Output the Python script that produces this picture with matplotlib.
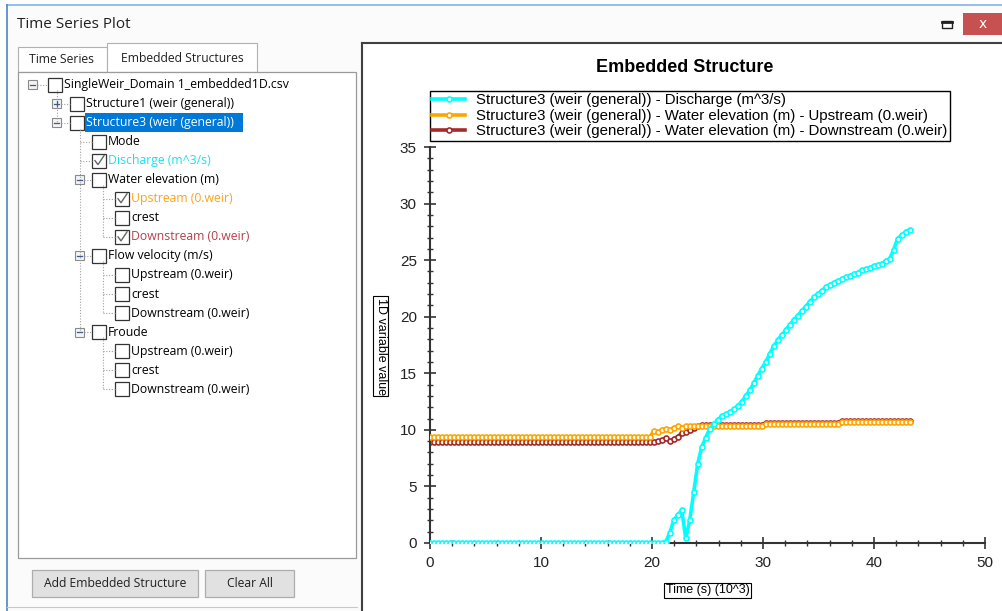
import matplotlib.pyplot as plt
from matplotlib.patches import Rectangle
import numpy as np

# sample times in 10^3 s (one sample every 360 s)
time_k = np.arange(121) * 0.36

discharge = [0.0] * 59 + [
    0.1, 0.9, 2.0, 2.5, 2.9, 0.4, 2.0, 4.5, 7.0, 8.5,
    9.3, 10.1, 10.5, 10.9, 11.2, 11.4, 11.6, 11.8, 12.1, 12.5,
    13.0, 13.5, 14.1, 14.8, 15.4, 16.0, 16.7, 17.4, 17.9, 18.4,
    18.8, 19.3, 19.7, 20.1, 20.5, 20.9, 21.3, 21.7, 22.0, 22.3,
    22.6, 22.8, 23.0, 23.2, 23.3, 23.5, 23.6, 23.8, 23.9, 24.1,
    24.2, 24.3, 24.5, 24.6, 24.7, 24.9, 25.1, 25.9, 26.9, 27.2,
    27.5, 27.7]
upstream = ([9.35] * 56
            + [9.9, 9.8, 10.0, 10.1, 10.0, 10.2, 10.3, 10.2, 10.3, 10.3, 10.3]
            + [10.35] * 17 + [10.5] * 19 + [10.7] * 18)
downstream = ([8.95] * 57
              + [9.0, 9.1, 9.3, 9.0, 9.2, 9.4, 9.7, 9.8, 10.0, 10.2, 10.35, 10.4]
              + [10.45] * 15 + [10.6] * 19 + [10.8] * 18)

legend_labels = [
    'Structure3 (weir (general)) - Discharge (m^3/s)',
    'Structure3 (weir (general)) - Water elevation (m) - Upstream (0.weir)',
    'Structure3 (weir (general)) - Water elevation (m) - Downstream (0.weir)',
]

# tree rows: (level, text, text colour, checked, expander)
tree_rows = [
    (0, 'SingleWeir_Domain 1_embedded1D.csv', '#000000', False, '-'),
    (1, 'Structure1 (weir (general))', '#000000', False, '+'),
    (1, 'Structure3 (weir (general))', '#ffffff', False, '-'),
    (2, 'Mode', '#000000', False, None),
    (2, 'Discharge (m^3/s)', '#19e0f0', True, None),
    (2, 'Water elevation (m)', '#000000', False, '-'),
    (3, 'Upstream (0.weir)', '#ffa31a', True, None),
    (3, 'crest', '#000000', False, None),
    (3, 'Downstream (0.weir)', '#b5404a', True, None),
    (2, 'Flow velocity (m/s)', '#000000', False, '-'),
    (3, 'Upstream (0.weir)', '#000000', False, None),
    (3, 'crest', '#000000', False, None),
    (3, 'Downstream (0.weir)', '#000000', False, None),
    (2, 'Froude', '#000000', False, '-'),
    (3, 'Upstream (0.weir)', '#000000', False, None),
    (3, 'crest', '#000000', False, None),
    (3, 'Downstream (0.weir)', '#000000', False, None),
]

W, H = 1003, 611
fig = plt.figure(figsize=(W / 100, H / 100), dpi=100)
fig.patch.set_facecolor('#ffffff')

# window chrome drawn in pixel coordinates
ui = fig.add_axes([0, 0, 1, 1])
ui.set_xlim(0, W)
ui.set_ylim(H, 0)
ui.axis('off')
UIF = 'Open Sans'

ui.add_patch(Rectangle((7, 5), W, H, fc='#fbfbfb', ec='none'))
ui.plot([7, W], [5, 5], color='#7eb4ea', lw=1.2)
ui.plot([7, 7], [5, H], color='#4a86c8', lw=1.2)
ui.text(17, 25, 'Time Series Plot', fontsize=11, family=UIF, va='center', color='#202020')
ui.add_patch(Rectangle((963, 13), 45, 22, fc='#c75050', ec='none'))
ui.text(983, 23.5, 'x', fontsize=10, family='DejaVu Sans', color='white', ha='center', va='center')
ui.add_patch(Rectangle((942, 21), 10, 7, fc='none', ec='#202020', lw=1))
ui.plot([942, 952], [21.5, 21.5], color='#202020', lw=2)

# tabs
ui.add_patch(Rectangle((18, 47), 89, 25, fc='#ffffff', ec='#b0b0b0', lw=0.8))
ui.text(62, 59.5, 'Time Series', fontsize=8.7, family=UIF, ha='center', va='center', color='#202020')
ui.add_patch(Rectangle((107, 43), 150, 29, fc='#ffffff', ec='#b0b0b0', lw=0.8))
ui.text(182, 58, 'Embedded Structures', fontsize=8.7, family=UIF, ha='center', va='center', color='#202020')

# tree box
ui.add_patch(Rectangle((18, 72), 338, 486, fc='#ffffff', ec='#9a9a9a', lw=0.9))

check_x = {0: 48, 1: 70, 2: 92, 3: 115}
exp_x = {0: 33, 1: 57, 2: 80}
dot = dict(color='#a0a0a0', lw=0.8, ls=(0, (1, 1.5)))


def row_y(k):
    return 84.5 if k == 0 else 103.5 + 19.05 * (k - 1)


# dotted connector lines
ui.plot([57, 57], [row_y(0) + 5, row_y(2)], **dot)
ui.plot([80, 80], [row_y(2) + 6, row_y(13)], **dot)
for parent, last in [(5, 8), (9, 12), (13, 16)]:
    ui.plot([103, 103], [row_y(parent) + 5, row_y(last)], **dot)
for k, (lvl, txt, col, chk, exp) in enumerate(tree_rows):
    y = row_y(k)
    if lvl >= 2 and exp is None:
        x0 = 80 if lvl == 2 else 103
        ui.plot([x0, check_x[lvl]], [y, y], **dot)
    elif exp is not None:
        ui.plot([exp_x[lvl] + 4, check_x[lvl]], [y, y], **dot)

for k, (lvl, txt, col, chk, exp) in enumerate(tree_rows):
    y = row_y(k)
    cx = check_x[lvl]
    if exp is not None:
        ex = exp_x[lvl]
        ui.add_patch(Rectangle((ex - 4.5, y - 4.5), 9, 9, fc='#f4f4f4', ec='#8a8a8a', lw=0.8))
        ui.plot([ex - 2.5, ex + 2.5], [y, y], color='#3c5a8c', lw=0.9)
        if exp == '+':
            ui.plot([ex, ex], [y - 2.5, y + 2.5], color='#3c5a8c', lw=0.9)
    ui.add_patch(Rectangle((cx, y - 7), 14, 14, fc='white', ec='#333333', lw=0.9))
    if chk:
        ui.plot([cx + 3, cx + 6, cx + 12], [y, y + 4, y - 5], color='#666666', lw=1.0)
    if k == 2:
        ui.add_patch(Rectangle((cx + 15, y - 9.5), 158, 19, fc='#0078d7', ec='none'))
    ui.text(cx + 16, y, txt, fontsize=8.8, family=UIF, va='center', color=col)

# buttons
for bx, bw, btxt in [(32, 166, 'Add Embedded Structure'), (205, 89, 'Clear All')]:
    ui.add_patch(Rectangle((bx, 570), bw, 27, fc='#e1e1e1', ec='#adadad', lw=0.9))
    ui.text(bx + bw / 2, 583.5, btxt, fontsize=8.7, family=UIF, ha='center', va='center', color='#202020')
ui.plot([7, 357], [607, 607], color='#c8c8c8', lw=0.8)

# chart panel
ui.add_patch(Rectangle((362, 43), W - 362, H - 43, fc='#ffffff', ec='none'))
ui.plot([362, W], [43, 43], color='#404040', lw=1.5)
ui.plot([362, 362], [43, H], color='#404040', lw=1.5)

CF = 'Liberation Sans'
ui.text(685, 67, 'Embedded Structure', fontsize=13, family=CF, weight='bold', ha='center', va='center')
box = dict(boxstyle='square,pad=0.12', fc='white', ec='black', lw=0.8)
ui.text(381, 346, '1D variable value', fontsize=9, family=CF, rotation=270,
        ha='center', va='center', bbox=box)
ui.text(707.5, 590, 'Time (s) (10^3)', fontsize=9, family=CF, ha='center', va='center', bbox=box)

# plot area
ax = fig.add_axes([430 / W, 1 - 543 / H, 555 / W, 396 / H])
ax.patch.set_visible(False)

mk = dict(marker='o', markersize=3.6, markerfacecolor='white', markeredgewidth=1.2, lw=2.6)
l_dn, = ax.plot(time_k, downstream, color='#a52a2a', markeredgecolor='#a52a2a', zorder=2, **mk)
l_up, = ax.plot(time_k, upstream, color='#ffa500', markeredgecolor='#ffa500', zorder=3, **mk)
l_q, = ax.plot(time_k, discharge, color='#00ffff', markeredgecolor='#00ffff', zorder=4, **mk)

ax.set_xlim(0, 50)
ax.set_ylim(0, 35)
ax.set_xticks(np.arange(0, 51, 10))
ax.set_xticks(np.arange(0, 51, 2), minor=True)
ax.set_yticks(np.arange(0, 36, 5))
ax.set_yticks(np.arange(0, 36, 1), minor=True)
for s in ['top', 'right']:
    ax.spines[s].set_visible(False)
for s in ['left', 'bottom']:
    ax.spines[s].set_linewidth(1.5)
    ax.spines[s].set_color('#333333')
ax.tick_params(which='major', direction='inout', length=9, width=1.2, color='#333333',
               labelsize=11, labelcolor='#222222', pad=5)
ax.tick_params(which='minor', direction='inout', length=4, width=1, color='#333333')
for lab in ax.get_xticklabels() + ax.get_yticklabels():
    lab.set_family(CF)

leg = ax.legend([l_q, l_up, l_dn], legend_labels, loc='upper left',
                bbox_to_anchor=(430 / W, 1 - 91 / H), bbox_transform=fig.transFigure,
                prop={'family': CF, 'size': 10.8}, frameon=True, fancybox=False,
                edgecolor='black', framealpha=1, borderpad=0.15, labelspacing=0.1,
                handlelength=2.2, handletextpad=0.75, borderaxespad=0, numpoints=1)
leg.get_frame().set_linewidth(1)

fig.savefig('out.png', dpi=100)
